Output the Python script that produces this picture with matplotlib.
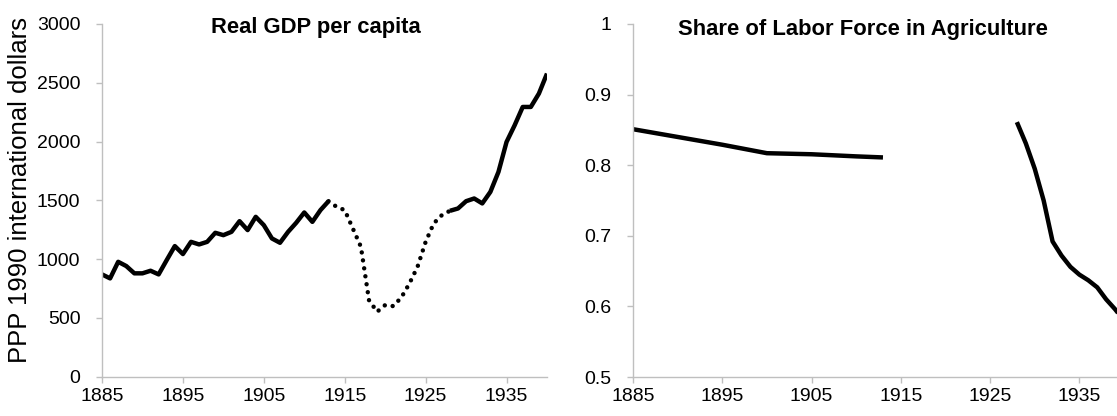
import matplotlib
matplotlib.use("Agg")
from matplotlib import pyplot as plt
from matplotlib.ticker import FormatStrFormatter

plt.rcParams['font.family'] = ['Liberation Sans', 'DejaVu Sans']

# real GDP per capita, PPP 1990 international dollars
gdp_years = list(range(1885, 1941))
gdp = [869, 835, 976, 940, 878, 878, 900, 869, 991, 1110,
       1042, 1146, 1124, 1146, 1223, 1203, 1231, 1322, 1246, 1359,
       1288, 1175, 1138, 1231, 1308, 1396, 1316, 1416, 1492, 1444,
       1416, 1260, 1104, 650, 551, 608, 599, 673, 792, 934,
       1146, 1303, 1373, 1410, 1430, 1492, 1515, 1473, 1571, 1741,
       1996, 2138, 2294, 2294, 2408, 2578]
# years drawn as an estimate (dotted)
gap_start = 1913
gap_end = 1928

# share of labor force in agriculture
agri_years_a = [1885, 1890, 1895, 1900, 1905, 1910, 1913]
agri_a = [0.851, 0.840, 0.829, 0.817, 0.8155, 0.8125, 0.811]
agri_years_b = [1928, 1929, 1930, 1931, 1932, 1933, 1934, 1935, 1936, 1937, 1938, 1939, 1940]
agri_b = [0.861, 0.831, 0.795, 0.750, 0.692, 0.672, 0.656, 0.645, 0.637, 0.627, 0.610, 0.596, 0.580]

titles = ['Real GDP per capita', 'Share of Labor Force in Agriculture']
ylabel = 'PPP 1990 international dollars'
xticks = [1885, 1895, 1905, 1915, 1925, 1935]

W, H = 1117, 416
AXCOL = '#bfbfbf'
LW = 3.2

fig = plt.figure(figsize=(W / 100, H / 100), dpi=100)
ax1 = fig.add_axes([102 / W, (H - 376.5) / H, 445 / W, 352.5 / H])
ax2 = fig.add_axes([633 / W, (H - 377) / H, 491 / W, 353 / H])


def style(ax):
    for s in ['top', 'right']:
        ax.spines[s].set_visible(False)
    for s in ['left', 'bottom']:
        ax.spines[s].set_color(AXCOL)
        ax.spines[s].set_linewidth(1.0)
    ax.tick_params(axis='both', colors=AXCOL, labelcolor='black', labelsize=14,
                   length=4.5, width=1.0, direction='out')
    ax.tick_params(axis='y', pad=11)
    ax.tick_params(axis='x', pad=3.5)
    ax.set_xticks(xticks)
    ax.set_xlim(1885, 1940)


# left panel
i0 = gdp_years.index(gap_start)
i1 = gdp_years.index(gap_end)
ax1.plot(gdp_years[:i0 + 1], gdp[:i0 + 1], color='black', lw=LW, solid_capstyle='butt')
ax1.plot(gdp_years[i0:i1 + 1], gdp[i0:i1 + 1], color='black', lw=LW,
         linestyle=(0, (0.01, 1.8)), dash_capstyle='round')
ax1.plot(gdp_years[i1:], gdp[i1:], color='black', lw=LW, solid_capstyle='butt')
style(ax1)
ax1.set_ylim(0, 3000)
ax1.set_yticks(range(0, 3001, 500))
ax1.set_ylabel(ylabel, fontsize=18.5)
ax1.yaxis.set_label_coords(-0.157, 0.53)
ax1.text(0.48, 0.99, titles[0], transform=ax1.transAxes, ha='center', va='center',
         fontsize=15.8, fontweight='bold')

# right panel
ax2.plot(agri_years_a, agri_a, color='black', lw=LW, solid_capstyle='butt')
ax2.plot(agri_years_b, agri_b, color='black', lw=LW, solid_capstyle='butt')
style(ax2)
ax2.set_ylim(0.5, 1.0)
ax2.set_yticks([0.5, 0.6, 0.7, 0.8, 0.9, 1.0])
ax2.yaxis.set_major_formatter(FormatStrFormatter('%g'))
ax2.text(0.468, 0.985, titles[1], transform=ax2.transAxes, ha='center', va='center',
         fontsize=15.8, fontweight='bold')

fig.savefig('out.png', dpi=100)
